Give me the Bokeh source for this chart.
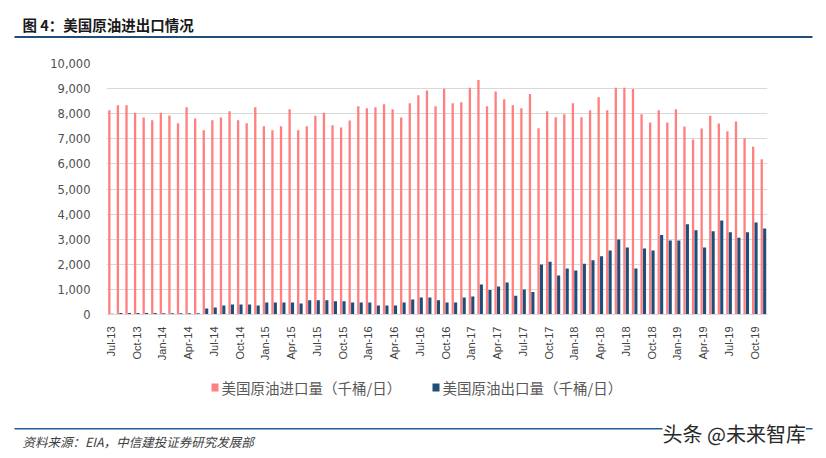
from bokeh.plotting import figure
from bokeh.models import (ColumnDataSource, FixedTicker, NumeralTickFormatter,
                          Range1d)
from bokeh.layouts import column
from bokeh.transform import dodge
from bokeh.core.properties import value
from bokeh.embed import file_html
from bokeh.resources import INLINE
import math

# ---- data (thousand barrels per day), Jul-13 .. Nov-19 ----
imports = [8140, 8340, 8340, 8035, 7850, 7740, 8035, 7930, 7620, 8260, 7810, 7340,
           7740, 7850, 8100, 7740, 7620, 8260, 7500, 7340, 7500, 8180, 7340, 7500,
           7915, 8035, 7540, 7450, 7730, 8300, 8220, 8260, 8380, 8180, 7850, 8420,
           8740, 8920, 8300, 8990, 8420, 8460, 9030, 9340, 8300, 8880, 8580, 8340,
           8220, 8780, 7420, 8100, 7860, 7980, 8420, 7860, 8140, 8660, 8140, 9030,
           9030, 8980, 7980, 7650, 8140, 7650, 8180, 7490, 6970, 7410, 7915, 7610,
           7300, 7690, 7025, 6680, 6190]
exports = [30, 60, 60, 60, 60, 60, 50, 50, 50, 50, 50, 240,
           280, 360, 400, 400, 400, 360, 480, 480, 480, 480, 440, 570,
           570, 570, 530, 530, 480, 480, 480, 360, 360, 360, 480, 600,
           680, 680, 570, 480, 480, 680, 720, 1200, 980, 1115, 1275, 745,
           1000, 900, 1990, 2100, 1550, 1830, 1750, 2020, 2160, 2320, 2550, 2990,
           2670, 1830, 2630, 2550, 3170, 2950, 2950, 3600, 3360, 2670, 3320, 3745,
           3280, 3055, 3280, 3665, 3425]
tick_labels = ["Jul-13", "Oct-13", "Jan-14", "Apr-14", "Jul-14", "Oct-14", "Jan-15",
               "Apr-15", "Jul-15", "Oct-15", "Jan-16", "Apr-16", "Jul-16", "Oct-16",
               "Jan-17", "Apr-17", "Jul-17", "Oct-17", "Jan-18", "Apr-18", "Jul-18",
               "Oct-18", "Jan-19", "Apr-19", "Jul-19", "Oct-19"]
series_names = ["美国原油进口量（千桶/日）", "美国原油出口量（千桶/日）"]
title_text = "图 4：美国原油进出口情况"
source_text = "资料来源：EIA，中信建投证券研究发展部"
watermark = "头条 @未来智库"

RED = "#FF8080"
BLUE = "#1F4E79"
RULE = "#1F5C99"
CJK = "Noto Sans CJK SC"

W = 826
HEAD_H = 48            # page y 0..48
MAIN_TOP, MAIN_BOT = 48, 365
FOOT_H = 458 - MAIN_BOT
FL, FR, FT, FB = 106, 767, 63, 314   # frame edges in page pixels


def deco_fig(height, y0):
    f = figure(width=W, height=height, output_backend="svg", toolbar_location=None,
               x_range=Range1d(0, W), y_range=Range1d(y0 + height, y0),
               x_axis_type=None, y_axis_type=None, min_border=0,
               outline_line_color=None, background_fill_color="white",
               border_fill_color="white", frame_align=False)
    return f


# ---------------- header ----------------
head = deco_fig(HEAD_H, 0)
head.text(x=[22], y=[24], text=[title_text], text_font=value(CJK),
          text_font_size="14.5px", text_font_style="bold", text_color="#1a1a1a",
          text_baseline="middle", text_align="left")
head.quad(left=[14], right=[812], top=[35.5], bottom=[37.5], fill_color=BLUE,
          line_color=None)

# ---------------- main chart ----------------
n = len(imports)
src = ColumnDataSource(dict(x=list(range(n)), imp=imports, exp=exports))
p = figure(width=W, height=MAIN_BOT - MAIN_TOP, output_backend="svg",
           toolbar_location=None,
           x_range=Range1d(-0.5, n - 0.5), y_range=Range1d(0, 10000),
           min_border_left=FL, min_border_right=W - FR,
           min_border_top=FT - MAIN_TOP, min_border_bottom=MAIN_BOT - FB,
           outline_line_color=None, background_fill_color="white",
           border_fill_color="white")

p.vbar(x=dodge("x", -0.17, range=p.x_range), top="imp", width=0.27,
       source=src, fill_color=RED, line_color=None)
p.vbar(x=dodge("x", 0.17, range=p.x_range), top="exp", width=0.36,
       source=src, fill_color=BLUE, line_color=None)

p.xaxis.ticker = FixedTicker(ticks=[3 * i for i in range(len(tick_labels))])
p.xaxis.major_label_overrides = {3 * i: t for i, t in enumerate(tick_labels)}
p.xaxis.major_label_orientation = math.pi / 2
p.xaxis.major_label_text_font = "Liberation Sans"
p.xaxis.major_label_text_font_size = "11px"
p.xaxis.major_label_text_color = "#404040"
p.xaxis.major_label_standoff = 6
p.xaxis.major_tick_line_color = None
p.xaxis.minor_tick_line_color = None
p.xaxis.axis_line_color = "#D9D9D9"

p.yaxis.ticker = FixedTicker(ticks=list(range(0, 10001, 1000)))
p.yaxis.formatter = NumeralTickFormatter(format="0,0")
p.yaxis.major_label_text_font = "DejaVu Sans"
p.yaxis.major_label_text_font_size = "11.5px"
p.yaxis.major_label_text_color = "#505050"
p.yaxis.major_label_standoff = 10
p.yaxis.major_tick_line_color = None
p.yaxis.minor_tick_line_color = None
p.yaxis.axis_line_color = None

p.xgrid.grid_line_color = None
p.ygrid.grid_line_color = "#D9D9D9"
p.ygrid.grid_line_width = 1

# ---------------- footer: legend key, source line, watermark ----------------
foot = deco_fig(FOOT_H, MAIN_BOT)
leg_y = 387
for lx, col, name in [(211, RED, series_names[0]), (432, BLUE, series_names[1])]:
    foot.quad(left=[lx], right=[lx + 7], top=[leg_y - 4], bottom=[leg_y + 4],
              fill_color=col, line_color=None)
    foot.text(x=[lx + 10], y=[leg_y], text=[name], text_font=value(CJK),
              text_font_size="14.5px", text_color="#595959",
              text_baseline="middle", text_align="left")

foot.quad(left=[14], right=[812], top=[427.5], bottom=[429], fill_color=RULE,
          line_color=None)
foot.text(x=[22], y=[441], text=[source_text], text_font=value(CJK),
          text_font_size="12.5px", text_font_style="italic", text_color="#404040",
          text_baseline="middle", text_align="left")
foot.text(x=[662], y=[433], text=[watermark], text_font=value(CJK),
          text_font_size="20px", text_color="#2a2a2a", text_baseline="middle",
          text_align="left", background_fill_color="white")

layout = column(head, p, foot, spacing=0)
open("out.html", "w").write(file_html(layout, INLINE))
